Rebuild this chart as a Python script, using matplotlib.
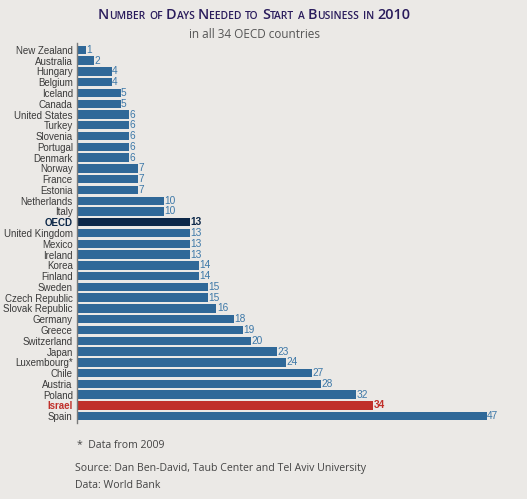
import matplotlib
matplotlib.use("Agg")
import matplotlib.pyplot as plt
import numpy as np

# ── data ──
countries = [
    "New Zealand", "Australia", "Hungary", "Belgium", "Iceland", "Canada",
    "United States", "Turkey", "Slovenia", "Portugal", "Denmark", "Norway",
    "France", "Estonia", "Netherlands", "Italy", "OECD", "United Kingdom",
    "Mexico", "Ireland", "Korea", "Finland", "Sweden", "Czech Republic",
    "Slovak Republic", "Germany", "Greece", "Switzerland", "Japan",
    "Luxembourg*", "Chile", "Austria", "Poland", "Israel", "Spain",
]
days = [1, 2, 4, 4, 5, 5, 6, 6, 6, 6, 6, 7, 7, 7, 10, 10, 13, 13, 13, 13,
        14, 14, 15, 15, 16, 18, 19, 20, 23, 24, 27, 28, 32, 34, 47]

# ── style ──
BG = "#ebe9e6"
BLUE = "#2f6898"
NAVY = "#0c2748"
RED = "#c0302a"
HIGHLIGHT = {"OECD": NAVY, "Israel": RED}
FONT = "Open Sans"

fig = plt.figure(figsize=(5.27, 4.99), dpi=100, facecolor=BG)
ax = fig.add_axes([0.146, 0.153, 0.827, 0.760], facecolor=BG)

y = np.arange(len(countries))
colors = [HIGHLIGHT.get(c, BLUE) for c in countries]
ax.barh(y, days, height=0.78, color=colors)

for yi, (c, v) in enumerate(zip(countries, days)):
    ax.text(v + 0.05, yi, str(v), va="center", ha="left", fontsize=7.3,
            color=HIGHLIGHT.get(c, "#3d78a8"),
            fontweight="bold" if c in HIGHLIGHT else "normal",
            family="Liberation Sans")

ax.set_yticks(y)
ax.set_yticklabels(countries, family="Liberation Sans", fontsize=7, color="#3a3a3a")
for lbl in ax.get_yticklabels():
    if lbl.get_text() in HIGHLIGHT:
        lbl.set_color(HIGHLIGHT[lbl.get_text()])
        lbl.set_fontweight("bold")
ax.tick_params(axis="y", length=0, pad=3)
ax.set_xticks([])
ax.set_xlim(0, 50)
ax.set_ylim(len(countries) - 0.4, -0.6)
for s in ("top", "right", "bottom"):
    ax.spines[s].set_visible(False)
ax.spines["left"].set_color("#7a7a7a")
ax.spines["left"].set_linewidth(1.0)

# ── title in small caps ──
title_words = ["Number", "of", "Days", "Needed", "to", "Start", "a", "Business", "in", "2010"]
TCOL = "#2a1c5c"
prev = None
x0 = 0.186
for w in title_words:
    if w.isdigit():
        parts = [(w, 10.4)]
    elif w[0].isupper():
        parts = [(w[0], 10.4), (w[1:].upper(), 7.4)]
    else:
        parts = [(w.upper(), 7.4)]
    for j, (txt, size) in enumerate(parts):
        gap = 2.5 if (j == 0 and prev is not None) else 0
        if prev is None:
            prev = fig.text(x0, 0.962, txt, fontsize=size, color=TCOL,
                            family=FONT, fontweight="semibold",
                            va="baseline", ha="left")
        else:
            prev = ax.annotate(txt, xy=(1, 0), xycoords=prev, xytext=(gap, 0),
                               textcoords="offset points", fontsize=size,
                               color=TCOL, family=FONT, fontweight="semibold",
                               va="bottom", ha="left", annotation_clip=False)

fig.text(0.482, 0.931, "in all 34 OECD countries", fontsize=8.5, color="#555555",
         family=FONT, ha="center", va="center")

# ── footnotes ──
NOTE = "#444444"
fig.text(0.146, 0.107, "*  Data from 2009", fontsize=7.6, color=NOTE, family=FONT, va="center")
fig.text(0.143, 0.062, "Source: Dan Ben-David, Taub Center and Tel Aviv University",
         fontsize=7.6, color=NOTE, family=FONT, va="center")
fig.text(0.143, 0.028, "Data: World Bank", fontsize=7.6, color=NOTE, family=FONT, va="center")

fig.savefig("out.png", dpi=100, facecolor=BG)
